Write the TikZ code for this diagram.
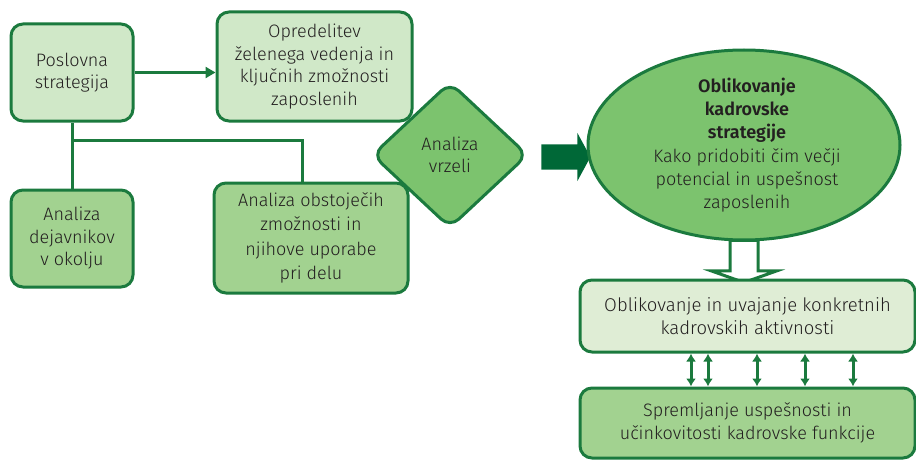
\documentclass[tikz,border=0pt]{standalone}
\usepackage{fontspec}
\setmainfont{Fira Sans}[UprightFont=* Light, BoldFont=* SemiBold]
\usetikzlibrary{shapes.geometric,shapes.arrows,arrows.meta,calc}

\definecolor{edge}{HTML}{1B7A3E}
\definecolor{deep}{HTML}{006837}
\definecolor{paleA}{HTML}{D0E8C8}
\definecolor{paleB}{HTML}{DFEDD5}
\definecolor{midg}{HTML}{A2D290}
\definecolor{richg}{HTML}{7CC36E}
\definecolor{ink}{HTML}{231F20}

\begin{document}
\begin{tikzpicture}[x=1pt,y=-1pt,
  every node/.style={font=\fontsize{18}{22.5}\selectfont, text=ink, align=center},
  box/.style={draw=edge, line width=3pt, rounded corners=12pt, inner sep=0pt},
  link/.style={draw=edge, line width=3pt},
  twoway/.style={draw=edge, line width=3pt,
    {Latex[length=8pt,width=10pt]}-{Latex[length=8pt,width=10pt]}}]
\useasboundingbox (0,0) rectangle (916,460);

% left column and upper boxes
\node[box, fill=paleA, minimum width=122pt, minimum height=97pt] (pos) at (72,72.5)
  {Poslovna\\strategija};
\node[box, fill=paleA, minimum width=195pt, minimum height=109pt] (opr) at (314.5,66.5)
  {Opredelitev\\ želenega vedenja in\\ključnih zmožnosti\\zaposlenih};
\node[box, fill=midg, minimum width=122pt, minimum height=97pt] (dej) at (72,238.5)
  {Analiza\\dejavnikov\\ v okolju};
\node[box, fill=midg, minimum width=194pt, minimum height=110pt,
  font=\fontsize{18}{24.5}\selectfont] (obs) at (311,238)
  {Analiza obstoječih\\zmožnosti in\\njihove uporabe\\pri delu};

% connectors from the business strategy
\coordinate (fork) at (72,140);
\draw[link, -{Triangle[length=10pt,width=11pt]}] (pos.east) -- (pos.east -| opr.west);
\draw[link] (pos.south) -- (dej.north);
\draw[link] (fork) -| ([xshift=-9pt]obs.north);

% gap analysis
\node[diamond, draw=edge, fill=richg, line width=3pt, rounded corners=12pt,
  minimum width=156pt, minimum height=146pt, inner sep=0pt] (gap) at (450,155)
  {Analiza\\vrzeli};

% strategy ellipse and the arrow leading into it
\node[single arrow, fill=deep, draw=none, inner xsep=0pt, inner ysep=12.5pt,
  minimum height=49pt, minimum width=48pt, single arrow head extend=11.5pt,
  single arrow tip angle=123, single arrow head indent=0pt] (push) at (562.5,157) {};

\node[single arrow, rotate=-90, fill=white, draw=edge, line width=3pt,
  inner xsep=0pt, inner ysep=12.5pt, minimum height=42pt, minimum width=62pt,
  single arrow head extend=18.5pt, single arrow tip angle=141,
  single arrow head indent=0pt] (down) at (744,259) {};

\node[ellipse, draw=edge, fill=richg, line width=3pt, inner sep=0pt,
  minimum width=312pt, minimum height=190pt] (ell) at (744,145) {};
\node[align=center, font=\fontsize{18}{23.3}\selectfont] (elltext) at ([xshift=3pt]ell.center)
  {\textbf{Oblikovanje}\\\textbf{kadrovske}\\\textbf{strategije}\\Kako pridobiti čim večji\\potencial in uspešnost\\zaposlenih};

% lower right boxes
\node[box, fill=paleB, minimum width=335pt, minimum height=72pt,
  font=\fontsize{18.5}{23}\selectfont] (akt) at (747.5,316)
  {Oblikovanje in uvajanje konkretnih\\kadrovskih aktivnosti};
\node[box, fill=midg, minimum width=335pt, minimum height=70pt] (spr) at (747.5,423)
  {Spremljanje uspešnosti in\\učinkovitosti kadrovske funkcije};

\foreach \xx in {691,708,757,805,853}
  \draw[twoway] (akt.south -| \xx,0) -- (spr.north -| \xx,0);
\end{tikzpicture}
\end{document}
